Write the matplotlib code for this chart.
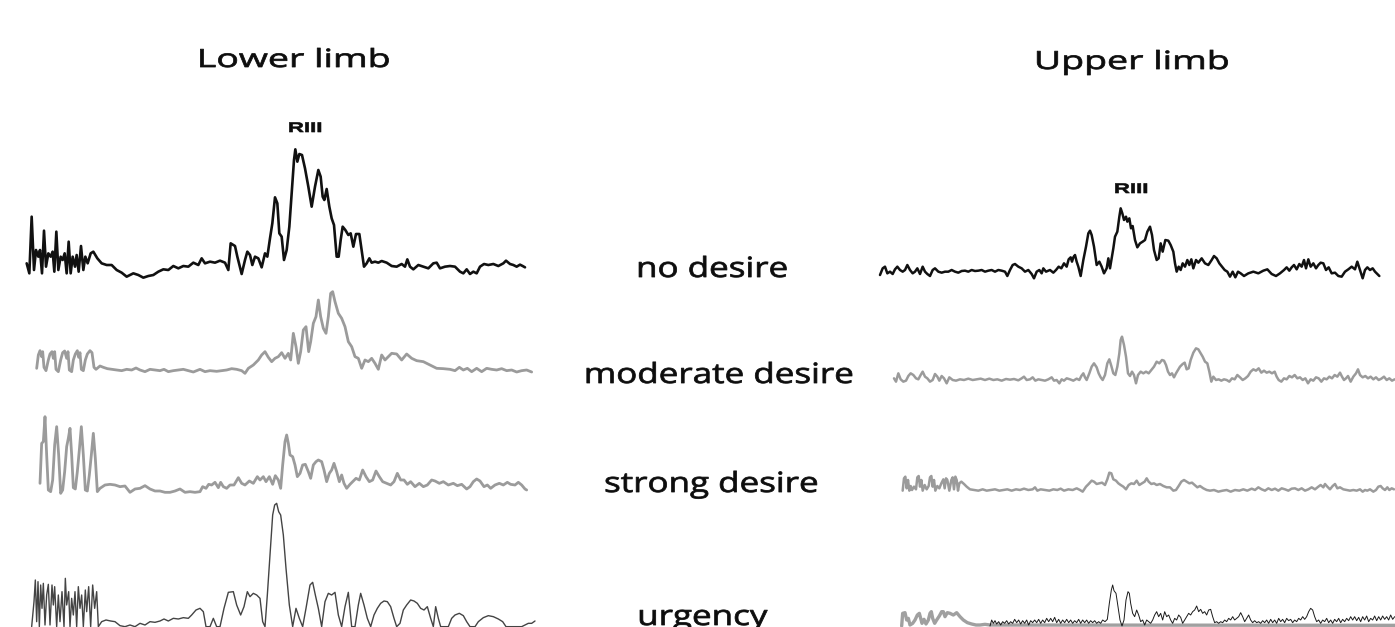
import matplotlib
matplotlib.use("Agg")
import matplotlib.pyplot as plt
from matplotlib.patheffects import AbstractPathEffect
from matplotlib.transforms import Affine2D

# ---------------------------------------------------------------------------
# Rectified EMG traces: (sample, amplitude) pairs, amplitude in µV (arbitrary offset)
# ---------------------------------------------------------------------------
lower_no_desire = [
    (20, 40), (28, 10), (35, 180), (42, 20), (48, 80), (55, 60), (60, 80), (66, 10), (72, 138),
    (78, 30), (85, 70), (92, 60), (98, 75), (103, 15), (109, 135), (115, 20), (122, 60), (128, 50),
    (134, 70), (140, 10), (146, 105), (152, 10), (158, 60), (165, 30), (170, 65), (176, 15),
    (183, 92), (190, 20), (196, 60), (203, 40), (212, 70), (220, 75), (232, 55), (245, 40),
    (260, 35), (275, 35), (290, 20), (305, 12), (320, 0), (340, 10), (355, 5), (370, -3), (385, 2),
    (400, 5), (415, 15), (430, 22), (445, 20), (460, 32), (475, 25), (490, 32), (505, 30),
    (520, 42), (535, 35), (545, 55), (555, 40), (570, 45), (585, 42), (600, 48), (615, 42),
    (625, 20), (632, 100), (645, 92), (652, 60), (665, 8), (675, 50), (682, 75), (690, 65),
    (697, 35), (705, 60), (715, 55), (725, 28), (735, 70), (742, 60), (750, 115), (757, 160),
    (765, 238), (772, 220), (778, 130), (785, 120), (792, 50), (800, 80), (808, 150), (815, 250),
    (822, 350), (826, 382), (832, 345), (838, 368), (846, 365), (855, 325), (865, 270), (875, 210),
    (885, 270), (895, 320), (902, 300), (908, 240), (913, 230), (920, 263), (928, 210), (935, 175),
    (942, 155), (950, 60), (956, 60), (962, 110), (968, 150), (976, 140), (985, 125), (992, 130),
    (1000, 90), (1008, 128), (1018, 128), (1025, 80), (1032, 30), (1040, 40), (1048, 55),
    (1055, 42), (1065, 45), (1075, 42), (1085, 47), (1100, 42), (1115, 32), (1130, 30), (1145, 38),
    (1155, 30), (1162, 52), (1170, 30), (1180, 22), (1195, 35), (1210, 30), (1225, 25), (1240, 40),
    (1250, 42), (1260, 25), (1275, 30), (1290, 32), (1305, 30), (1320, 15), (1330, 10), (1340, 22),
    (1350, 8), (1360, 15), (1370, 10), (1380, 30), (1392, 38), (1405, 35), (1420, 38), (1435, 32),
    (1450, 40), (1458, 48), (1470, 38), (1480, 35), (1490, 30), (1500, 36), (1508, 32), (1515, 28),
]

lower_moderate = [
    (50, 15), (55, 55), (60, 68), (65, 50), (68, 65), (72, 18), (78, 8), (85, 40), (90, 58),
    (96, 65), (100, 45), (104, 65), (108, 12), (115, 5), (122, 40), (128, 62), (134, 67), (140, 45),
    (144, 65), (148, 10), (155, 5), (160, 40), (166, 58), (172, 68), (176, 48), (180, 62), (184, 12),
    (190, 8), (196, 40), (202, 58), (210, 68), (216, 62), (222, 18), (228, 12), (240, 22), (250, 18),
    (262, 14), (275, 12), (290, 10), (305, 8), (320, 12), (335, 10), (348, 16), (360, 10), (375, 5),
    (390, 12), (405, 10), (420, 8), (432, 12), (445, 5), (460, 8), (475, 10), (490, 12), (505, 8),
    (520, 4), (540, 12), (555, 5), (570, 8), (590, 6), (605, 8), (620, 10), (635, 14), (650, 12),
    (665, 8), (675, 0), (685, 15), (700, 25), (715, 40), (725, 55), (735, 65), (745, 48), (755, 35),
    (765, 45), (775, 50), (785, 62), (795, 45), (805, 60), (812, 40), (820, 120), (828, 80),
    (835, 30), (842, 65), (850, 130), (858, 140), (866, 65), (872, 95), (880, 150), (888, 170),
    (895, 220), (902, 170), (910, 135), (918, 120), (925, 170), (932, 240), (938, 245), (945, 215),
    (955, 180), (965, 165), (975, 140), (985, 95), (995, 80), (1005, 50), (1015, 45), (1025, 15),
    (1035, 40), (1045, 35), (1055, 45), (1065, 30), (1075, 12), (1085, 55), (1095, 40), (1105, 50),
    (1115, 60), (1130, 58), (1145, 40), (1160, 58), (1175, 45), (1190, 38), (1210, 35), (1230, 25),
    (1250, 15), (1270, 14), (1290, 12), (1305, 8), (1318, 18), (1330, 10), (1342, 15), (1355, 5),
    (1370, 15), (1385, 5), (1400, 15), (1415, 12), (1430, 10), (1445, 14), (1460, 8), (1475, 10),
    (1490, 4), (1505, 8), (1520, 10), (1535, 4),
]

lower_strong = [
    (60, 30), (65, 150), (70, 155), (75, 230), (80, 115), (85, 10), (92, 5), (98, 40), (104, 145),
    (110, 200), (116, 115), (122, 0), (128, 10), (134, 65), (140, 140), (145, 165), (150, 195),
    (155, 115), (160, 17), (166, 13), (172, 65), (178, 130), (184, 200), (190, 115), (196, 10),
    (202, 7), (208, 55), (214, 115), (220, 180), (226, 105), (232, 5), (240, 15), (255, 25),
    (270, 27), (285, 25), (300, 20), (315, 22), (330, 3), (345, 13), (360, 15), (375, 23), (390, 13),
    (405, 7), (420, 7), (435, 3), (450, 3), (465, 7), (480, 13), (495, 3), (510, 5), (525, 3),
    (540, 5), (548, 20), (558, 15), (566, 27), (575, 25), (585, 33), (595, 17), (602, 33), (610, 20),
    (620, 15), (630, 25), (642, 25), (655, 47), (665, 30), (675, 25), (688, 37), (700, 30),
    (712, 50), (720, 40), (730, 50), (738, 35), (748, 50), (758, 27), (766, 53), (775, 40),
    (782, 15), (788, 85), (795, 155), (800, 175), (805, 150), (810, 115), (818, 110), (825, 85),
    (832, 50), (840, 60), (848, 85), (856, 87), (865, 65), (872, 45), (880, 85), (888, 95),
    (895, 100), (905, 95), (912, 70), (920, 35), (928, 60), (935, 70), (942, 90), (950, 65),
    (958, 35), (965, 55), (972, 30), (980, 15), (990, 27), (998, 35), (1008, 45), (1018, 40),
    (1028, 70), (1038, 50), (1048, 35), (1058, 40), (1068, 67), (1078, 50), (1088, 35), (1100, 30),
    (1112, 25), (1122, 35), (1132, 60), (1142, 40), (1152, 40), (1162, 27), (1172, 35), (1185, 20),
    (1198, 30), (1210, 20), (1222, 25), (1235, 40), (1245, 37), (1258, 30), (1270, 35), (1285, 25),
    (1300, 30), (1312, 23), (1325, 27), (1340, 13), (1350, 20), (1360, 35), (1370, 43), (1380, 37),
    (1392, 20), (1402, 25), (1412, 15), (1425, 25), (1438, 30), (1450, 25), (1462, 33), (1472, 27),
    (1485, 25), (1495, 33), (1505, 25), (1515, 13), (1520, 10),
]

lower_urgency = [
    (35, 5), (42, 80), (46, 145), (50, 20), (54, 140), (58, 5), (62, 130), (66, 60), (70, 135),
    (75, 10), (80, 100), (85, 132), (90, 10), (96, 130), (100, 70), (104, 125), (110, 5), (115, 100),
    (120, 20), (126, 110), (132, 5), (136, 150), (140, 70), (146, 110), (150, 5), (155, 90),
    (160, 40), (165, 110), (170, 5), (175, 125), (180, 60), (185, 100), (190, 5), (196, 115),
    (200, 50), (206, 125), (212, 5), (218, 130), (224, 60), (230, 110), (235, 5), (245, 20),
    (258, 25), (272, 22), (285, 20), (300, 8), (315, 5), (330, 10), (345, 5), (360, 15), (375, 10),
    (390, 20), (405, 18), (420, 22), (432, 28), (445, 22), (460, 30), (475, 28), (490, 32),
    (505, 30), (515, 40), (528, 55), (540, 60), (550, 50), (558, 5), (570, 5), (580, 30), (590, 5),
    (600, 5), (612, 60), (625, 108), (640, 110), (650, 70), (662, 40), (672, 65), (682, 110),
    (690, 95), (700, 105), (710, 100), (720, 90), (728, 20), (735, 5), (742, 100), (750, 220),
    (758, 340), (764, 370), (770, 375), (776, 350), (782, 340), (790, 280), (798, 180), (808, 70),
    (818, 5), (828, 60), (838, 30), (848, 5), (858, 60), (870, 130), (878, 138), (886, 100),
    (895, 60), (905, 5), (915, 80), (925, 105), (935, 100), (945, 108), (955, 40), (965, 5),
    (975, 65), (985, 108), (995, 5), (1005, 5), (1015, 70), (1022, 105), (1032, 70), (1042, 30),
    (1052, 5), (1062, 40), (1072, 60), (1082, 75), (1092, 82), (1102, 80), (1112, 65), (1122, 30),
    (1130, 5), (1140, 15), (1150, 55), (1160, 70), (1172, 85), (1182, 82), (1192, 75), (1202, 60),
    (1212, 55), (1222, 65), (1232, 30), (1240, 5), (1247, 65), (1255, 30), (1262, 5), (1272, 5),
    (1285, 5), (1295, 30), (1305, 40), (1318, 45), (1330, 38), (1340, 20), (1350, 5), (1365, 5),
    (1375, 20), (1390, 32), (1405, 38), (1420, 35), (1435, 28), (1448, 20), (1458, 5), (1470, 5),
    (1490, 5), (1505, 5), (1515, 10), (1525, 15), (1535, 15), (1545, 22),
]

upper_no_desire = [
    (30, 5), (38, 25), (45, 30), (52, 10), (60, 15), (68, 8), (75, 22), (82, 30), (90, 20),
    (98, 15), (105, 20), (112, 35), (120, 20), (128, 10), (135, 15), (142, 25), (150, 8), (158, 30),
    (165, 15), (172, 8), (180, 2), (188, 20), (195, 25), (205, 15), (215, 12), (225, 15), (235, 15),
    (245, 20), (255, 15), (265, 12), (275, 17), (285, 18), (295, 15), (305, 20), (315, 17),
    (325, 18), (335, 20), (345, 15), (355, 18), (365, 20), (375, 15), (385, 20), (395, 18),
    (405, 15), (412, 2), (420, 20), (428, 35), (435, 38), (445, 30), (455, 25), (465, 15), (475, 20),
    (485, 8), (492, -5), (500, 15), (508, 20), (515, 10), (520, 25), (528, 15), (540, 20), (550, 12),
    (558, 20), (566, 30), (574, 25), (582, 40), (590, 30), (596, 52), (602, 58), (606, 45),
    (610, 58), (615, 65), (620, 45), (625, 30), (632, 2), (640, 50), (648, 90), (655, 130),
    (660, 138), (665, 125), (672, 90), (680, 35), (688, 45), (695, 30), (702, 10), (710, 25),
    (715, 55), (720, 25), (725, 55), (730, 85), (735, 120), (742, 135), (748, 180), (752, 205),
    (757, 190), (762, 170), (768, 180), (772, 165), (778, 175), (783, 145), (788, 152), (795, 110),
    (802, 88), (810, 100), (818, 105), (825, 110), (832, 135), (840, 150), (846, 125), (852, 80),
    (860, 50), (866, 55), (872, 100), (878, 75), (886, 110), (895, 108), (902, 95), (910, 75),
    (915, 40), (920, 15), (926, 30), (932, 20), (938, 40), (945, 30), (952, 50), (958, 35),
    (964, 52), (970, 25), (978, 50), (985, 42), (995, 55), (1005, 40), (1015, 35), (1025, 50),
    (1032, 62), (1040, 55), (1048, 40), (1056, 30), (1064, 20), (1072, 15), (1080, 0), (1088, 15),
    (1096, -2), (1104, 15), (1112, 10), (1122, 2), (1135, 10), (1150, 15), (1165, 10), (1180, 18),
    (1192, 22), (1205, 8), (1218, 2), (1230, 10), (1242, 20), (1250, 28), (1258, 18), (1265, 28),
    (1272, 35), (1280, 22), (1288, 38), (1295, 30), (1302, 50), (1308, 25), (1315, 52), (1322, 30),
    (1330, 40), (1338, 25), (1345, 35), (1352, 42), (1360, 40), (1368, 20), (1376, 28), (1385, 10),
    (1395, 12), (1405, 2), (1415, 0), (1425, 15), (1435, 22), (1445, 30), (1455, 22), (1462, 45),
    (1470, 20), (1478, -5), (1485, 20), (1492, 28), (1500, 20), (1508, 25), (1515, 15), (1522, 8),
    (1528, 2),
]

upper_moderate = [
    (42, 15), (48, 5), (55, 30), (62, 12), (70, 5), (78, 8), (85, 22), (92, 30), (100, 25),
    (108, 15), (115, 12), (122, 25), (128, 35), (135, 20), (142, 15), (150, 5), (158, 10), (165, 28),
    (172, 20), (178, 8), (185, 22), (192, 15), (200, 0), (208, 18), (218, 10), (228, 8), (240, 12),
    (252, 10), (265, 14), (278, 10), (290, 12), (302, 14), (315, 10), (328, 14), (340, 10),
    (352, 12), (365, 8), (378, 13), (390, 11), (402, 13), (415, 9), (425, 15), (432, 20), (440, 10),
    (450, 12), (458, 18), (466, 8), (475, 12), (485, 10), (495, 8), (505, 12), (515, 18), (522, 8),
    (530, 10), (538, 0), (545, 12), (552, 8), (560, 15), (570, 12), (580, 8), (590, 14), (598, 10),
    (604, 22), (610, 30), (615, 18), (620, 10), (628, 30), (635, 50), (642, 60), (650, 48),
    (656, 30), (662, 18), (668, 10), (675, 25), (682, 60), (688, 72), (694, 52), (700, 30),
    (706, 25), (712, 50), (718, 90), (722, 130), (726, 140), (732, 115), (738, 80), (744, 30),
    (750, 22), (756, 35), (762, 25), (768, 0), (774, 25), (782, 35), (790, 30), (798, 35), (806, 30),
    (814, 40), (822, 50), (830, 65), (838, 60), (846, 70), (852, 68), (858, 55), (864, 35),
    (870, 25), (876, 30), (882, 18), (888, 30), (894, 40), (900, 50), (908, 58), (914, 62),
    (920, 42), (926, 45), (932, 70), (940, 92), (948, 105), (955, 102), (962, 90), (968, 80),
    (975, 65), (982, 60), (988, 35), (994, 5), (1000, 20), (1008, 10), (1016, 12), (1024, 8),
    (1032, 12), (1040, 10), (1048, 5), (1056, 15), (1064, 12), (1072, 25), (1080, 18), (1088, 10),
    (1096, 15), (1104, 22), (1112, 35), (1120, 42), (1128, 38), (1136, 45), (1144, 32), (1152, 38),
    (1160, 32), (1168, 35), (1176, 30), (1184, 35), (1190, 20), (1196, 10), (1204, 5), (1212, 15),
    (1220, 12), (1228, 22), (1236, 18), (1244, 25), (1252, 15), (1260, 18), (1268, 10), (1276, 15),
    (1284, 0), (1292, 12), (1300, 8), (1308, 18), (1316, 15), (1324, 5), (1332, 15), (1340, 12),
    (1348, 20), (1356, 15), (1364, 25), (1372, 20), (1380, 32), (1386, 20), (1392, 10), (1398, 15),
    (1404, 22), (1412, 5), (1420, 20), (1428, 30), (1434, 42), (1440, 25), (1448, 18), (1456, 22),
    (1464, 15), (1472, 20), (1480, 12), (1488, 18), (1496, 10), (1504, 14), (1512, 20), (1520, 10),
    (1528, 15), (1536, 8), (1544, 12),
]

upper_strong = [
    (38, 8), (42, 45), (46, 50), (50, 15), (54, 40), (58, 8), (62, 22), (66, 10), (72, 20),
    (78, 12), (82, 48), (86, 52), (90, 20), (94, 40), (98, 8), (104, 25), (110, 12), (116, 22),
    (120, 48), (124, 52), (128, 20), (132, 40), (136, 8), (142, 22), (148, 15), (154, 30), (160, 42),
    (164, 15), (168, 45), (172, 40), (178, 8), (184, 40), (188, 48), (192, 12), (196, 50), (200, 40),
    (204, 8), (208, 30), (214, 35), (222, 28), (230, 20), (240, 12), (252, 10), (265, 8), (278, 12),
    (290, 8), (302, 10), (315, 12), (328, 8), (340, 10), (352, 12), (365, 8), (378, 12), (390, 10),
    (402, 14), (415, 10), (428, 12), (435, 18), (442, 8), (452, 12), (465, 10), (478, 8), (490, 12),
    (502, 10), (512, 14), (522, 8), (535, 12), (548, 10), (560, 15), (570, 10), (578, 5), (588, 20),
    (596, 28), (605, 38), (612, 35), (620, 28), (628, 30), (636, 32), (645, 25), (652, 42),
    (658, 62), (664, 60), (670, 42), (678, 38), (685, 30), (692, 25), (700, 20), (708, 12),
    (716, 25), (724, 30), (732, 28), (740, 38), (748, 25), (756, 30), (764, 35), (770, 45),
    (776, 35), (784, 28), (792, 30), (800, 25), (810, 28), (820, 22), (830, 18), (840, 18), (850, 8),
    (858, 10), (866, 22), (874, 35), (882, 40), (890, 35), (898, 30), (906, 32), (914, 25),
    (922, 18), (930, 22), (940, 15), (950, 10), (960, 8), (972, 10), (985, 5), (998, 8), (1010, 10),
    (1022, 5), (1035, 10), (1048, 8), (1060, 12), (1072, 8), (1085, 14), (1095, 10), (1105, 18),
    (1115, 12), (1125, 8), (1135, 15), (1145, 10), (1155, 14), (1165, 8), (1175, 15), (1185, 12),
    (1195, 8), (1205, 14), (1215, 15), (1225, 10), (1235, 15), (1245, 8), (1255, 12), (1265, 18),
    (1275, 12), (1285, 20), (1292, 25), (1300, 18), (1305, 28), (1312, 20), (1320, 12), (1328, 22),
    (1335, 28), (1342, 15), (1350, 18), (1360, 12), (1370, 10), (1380, 8), (1390, 10), (1400, 8),
    (1410, 12), (1418, 5), (1425, 10), (1432, 8), (1440, 12), (1450, 5), (1458, 10), (1465, 20),
    (1472, 22), (1478, 15), (1485, 10), (1492, 18), (1498, 10), (1505, 15), (1512, 12),
]

# Urgency, upper limb: stimulus-artefact channel (grey) and the EMG overlay (black)
upper_urgency_artefact = [
    (35, 2), (38, 40), (45, 42), (50, 20), (55, 25), (60, 5), (68, 10), (75, 20), (82, 35),
    (88, 40), (92, 25), (96, 10), (102, 22), (108, 8), (115, 20), (120, 40), (124, 45), (128, 25),
    (134, 10), (140, 20), (148, 32), (155, 45), (160, 45), (165, 30), (172, 42), (180, 40),
    (190, 35), (200, 42), (210, 30), (220, 20), (232, 12), (245, 8), (258, 5), (270, 5), (285, 7),
    (300, 5), (1515, 4),
]

upper_urgency = [
    (300, 2), (305, 20), (310, 10), (315, 18), (320, 8), (326, 15), (332, 5), (338, 15), (344, 10),
    (350, 18), (356, 8), (362, 15), (368, 10), (374, 22), (380, 12), (386, 20), (392, 8), (398, 18),
    (404, 10), (410, 20), (416, 5), (422, 18), (428, 12), (434, 20), (440, 12), (446, 22), (452, 10),
    (458, 20), (464, 12), (470, 25), (476, 15), (482, 25), (488, 15), (494, 28), (500, 12),
    (506, 22), (512, 10), (518, 20), (524, 12), (530, 22), (536, 12), (542, 20), (548, 10),
    (554, 18), (560, 12), (566, 22), (572, 10), (578, 20), (584, 12), (590, 20), (596, 10),
    (602, 18), (608, 12), (614, 18), (620, 10), (626, 15), (632, 10), (638, 20), (645, 15),
    (652, 22), (658, 70), (664, 110), (668, 125), (672, 108), (678, 100), (684, 60), (690, 20),
    (696, 2), (702, 20), (708, 80), (714, 105), (718, 100), (722, 70), (728, 40), (734, 30),
    (740, 50), (746, 35), (752, 15), (758, 20), (764, 5), (770, 20), (776, 15), (782, 10), (788, 20),
    (794, 35), (800, 45), (806, 30), (812, 40), (818, 20), (824, 45), (830, 30), (836, 35), (842, 20),
    (848, 10), (854, 25), (860, 20), (866, 35), (872, 28), (878, 10), (884, 20), (890, 30), (896, 40),
    (902, 35), (908, 45), (914, 50), (920, 62), (926, 45), (932, 52), (938, 40), (944, 45), (950, 35),
    (956, 50), (962, 52), (968, 30), (974, 12), (980, 15), (986, 10), (992, 15), (998, 12),
    (1004, 20), (1010, 15), (1016, 25), (1022, 20), (1028, 30), (1034, 20), (1040, 25), (1046, 30),
    (1052, 42), (1058, 30), (1064, 15), (1070, 25), (1076, 35), (1082, 20), (1088, 12), (1094, 18),
    (1100, 12), (1106, 15), (1112, 10), (1118, 18), (1124, 12), (1130, 20), (1136, 10), (1142, 22),
    (1148, 12), (1154, 20), (1160, 10), (1166, 25), (1172, 15), (1178, 22), (1184, 12), (1190, 25),
    (1196, 18), (1202, 22), (1208, 12), (1214, 20), (1220, 15), (1226, 25), (1232, 20), (1238, 30),
    (1244, 22), (1250, 30), (1256, 45), (1262, 55), (1268, 50), (1274, 30), (1280, 15), (1286, 20),
    (1292, 10), (1298, 20), (1304, 15), (1310, 25), (1316, 12), (1322, 20), (1328, 10), (1334, 22),
    (1340, 15), (1346, 25), (1352, 12), (1358, 22), (1364, 15), (1370, 25), (1376, 18), (1382, 30),
    (1388, 20), (1394, 30), (1400, 18), (1406, 28), (1412, 15), (1418, 30), (1424, 20), (1430, 32),
    (1436, 15), (1442, 25), (1448, 20), (1454, 32), (1460, 18), (1466, 30), (1472, 20), (1478, 32),
    (1484, 22), (1490, 30), (1496, 20), (1502, 35), (1508, 22), (1514, 30),
]

column_titles = ["Lower limb", "Upper limb"]
condition_labels = ["no desire", "moderate desire", "strong desire", "urgency"]
reflex_label = "RIII"

# ---------------------------------------------------------------------------
# Layout (pixels on a 1395 x 627 canvas)
# ---------------------------------------------------------------------------
W, H = 1395, 627
PX_PER_UNIT = 1.0 / 3.0          # one sample / one µV step = 1/3 px

BLACK = "#111111"
GREY = "#9b9b9b"

traces = [
    # data, trace origin (x, y) in px, colour, linewidth
    (lower_no_desire, (20, 276.67), BLACK, 1.9),
    (lower_moderate, (20, 373.33), GREY, 2.0),
    (lower_strong, (20, 493.33), GREY, 2.0),
    (lower_urgency, (20, 628.33), "#444444", 1.0),
    (upper_no_desire, (870, 276.67), BLACK, 1.8),
    (upper_moderate, (880, 383.33), GREY, 1.8),
    (upper_strong, (890, 493.33), GREY, 1.8),
    (upper_urgency_artefact, (890, 626.67), "#a0a0a0", 2.4),
    (upper_urgency, (890, 626.67), "#1a1a1a", 0.7),
]


class HorizontalStretch(AbstractPathEffect):
    """Draw a text path widened horizontally about its own centre, with a thin outline."""

    def __init__(self, factor, stroke=0.0):
        super().__init__()
        self.factor = factor
        self.stroke = stroke

    def draw_path(self, renderer, gc, tpath, affine, rgbFace=None):
        ext = tpath.get_extents(affine)
        cx = 0.5 * (ext.x0 + ext.x1)
        stretched = affine + Affine2D().translate(-cx, 0).scale(self.factor, 1).translate(cx, 0)
        gc0 = renderer.new_gc()
        gc0.copy_properties(gc)
        if self.stroke > 0 and rgbFace is not None:
            gc0.set_linewidth(self.stroke)
            gc0.set_foreground(rgbFace)
        renderer.draw_path(gc0, tpath, stretched, rgbFace)
        gc0.restore()


fig = plt.figure(figsize=(W / 100, H / 100), dpi=100)
fig.patch.set_facecolor("white")

for data, (ox, oy), color, lw in traces:
    ax = fig.add_axes([0, 0, 1, 1])
    ax.patch.set_alpha(0)
    ax.set_axis_off()
    ax.set_xlim(-ox / PX_PER_UNIT, (W - ox) / PX_PER_UNIT)
    ax.set_ylim(-(H - oy) / PX_PER_UNIT, oy / PX_PER_UNIT)
    t = [p[0] for p in data]
    a = [p[1] for p in data]
    ax.plot(t, a, color=color, lw=lw, solid_joinstyle="round", solid_capstyle="round")


def put_text(s, x, y, size, stretch, stroke, family="Open Sans", weight="normal"):
    fig.text(x / W, 1 - y / H, s, ha="center", va="baseline", fontsize=size,
             family=family, weight=weight, color="#0d0d0d",
             path_effects=[HorizontalStretch(stretch, stroke)])


# column headings
put_text(column_titles[0], 294, 67, 18, 1.5, 0.55)
put_text(column_titles[1], 1132, 69, 18, 1.5, 0.55)

# condition labels between the two columns
label_pos = [(712, 277), (718.5, 383), (711, 492), (702.5, 625)]
for s, (x, y) in zip(condition_labels, label_pos):
    put_text(s, x, y, 20, 1.26, 0.55)

# reflex markers
put_text(reflex_label, 305, 132, 10, 1.6, 0.45, family="Liberation Sans", weight="bold")
put_text(reflex_label, 1131, 193, 10, 1.6, 0.45, family="Liberation Sans", weight="bold")

fig.savefig("out.png", dpi=100, facecolor="white")
